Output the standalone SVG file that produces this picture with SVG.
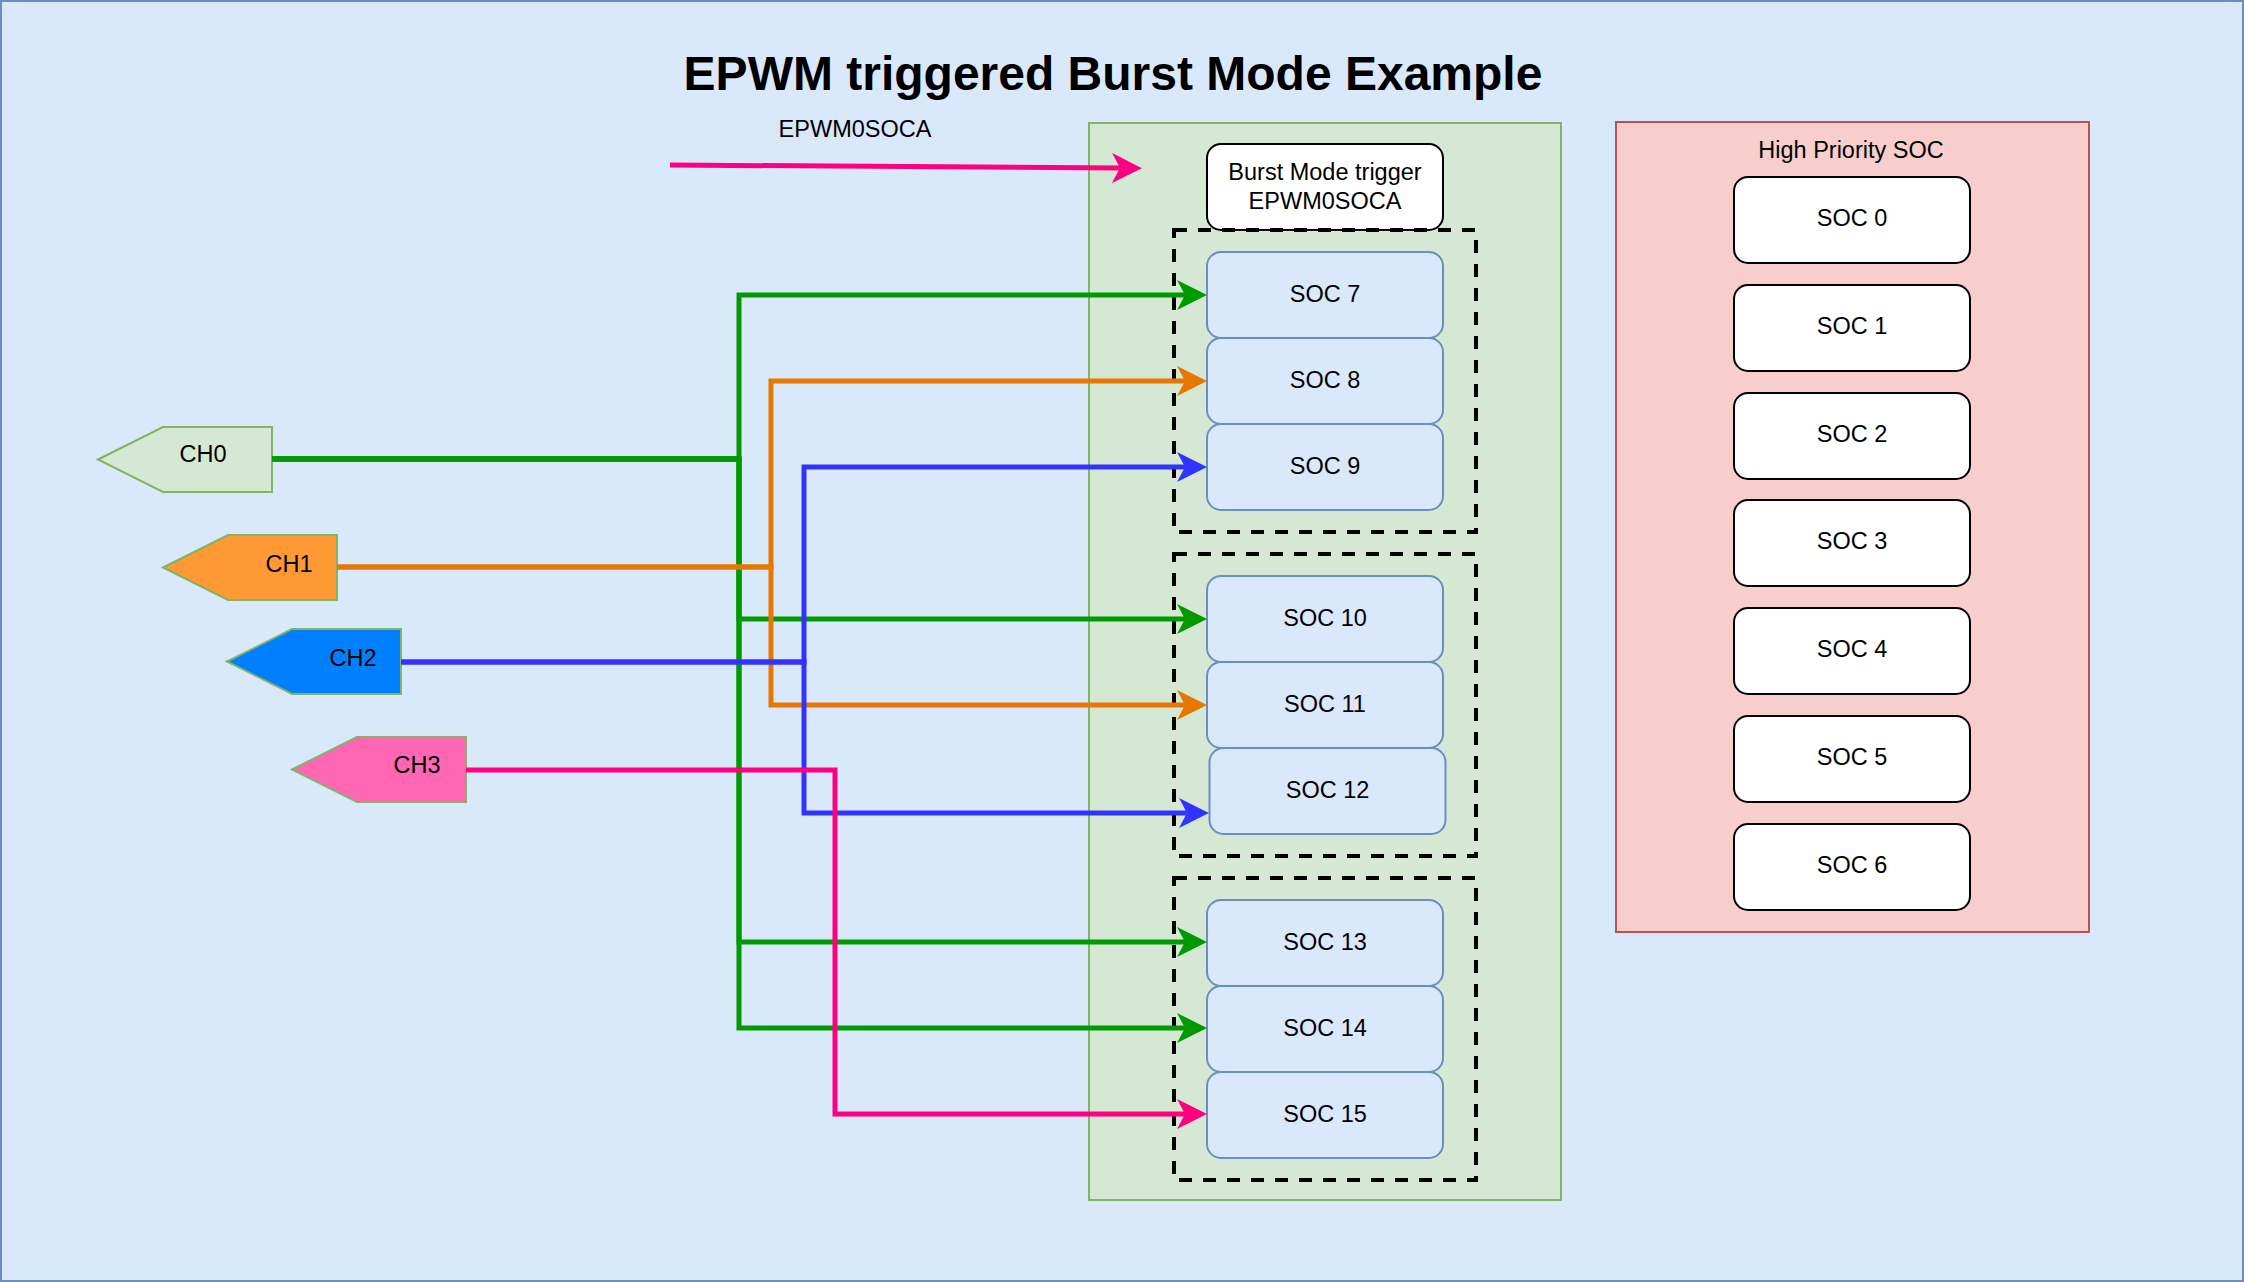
<svg xmlns="http://www.w3.org/2000/svg" width="2244" height="1282" viewBox="0 0 2244 1282">
<style>
text{font-family:"Liberation Sans",Arial,sans-serif;font-size:23.5px;fill:#000;text-anchor:middle}
.title{font-size:48px;font-weight:bold}
.soc{fill:#dae8fc;stroke:#6c8ebf;stroke-width:2}
.hp{fill:#ffffff;stroke:#000;stroke-width:2}
.dash{fill:none;stroke:#000;stroke-width:4;stroke-dasharray:13 11}
.ch{stroke:#82b366;stroke-width:2}
.c{fill:none;stroke-width:5;stroke-linejoin:miter}
.g{stroke:#009900;marker-end:url(#ag)}
.o{stroke:#e77700;marker-end:url(#ao)}
.b{stroke:#3333ff;marker-end:url(#ab)}
.p{stroke:#ff0080;marker-end:url(#ap)}
</style>
<defs>
<marker id="ag" markerUnits="userSpaceOnUse" viewBox="0 0 30 30" markerWidth="30" markerHeight="30" refX="8" refY="15" orient="auto"><path d="M0,0 L30,15 L0,30 L8,15 Z" fill="#009900"/></marker>
<marker id="ao" markerUnits="userSpaceOnUse" viewBox="0 0 30 30" markerWidth="30" markerHeight="30" refX="8" refY="15" orient="auto"><path d="M0,0 L30,15 L0,30 L8,15 Z" fill="#e77700"/></marker>
<marker id="ab" markerUnits="userSpaceOnUse" viewBox="0 0 30 30" markerWidth="30" markerHeight="30" refX="8" refY="15" orient="auto"><path d="M0,0 L30,15 L0,30 L8,15 Z" fill="#3333ff"/></marker>
<marker id="ap" markerUnits="userSpaceOnUse" viewBox="0 0 30 30" markerWidth="30" markerHeight="30" refX="8" refY="15" orient="auto"><path d="M0,0 L30,15 L0,30 L8,15 Z" fill="#ff0080"/></marker>
</defs>
<rect id="background" x="1" y="1" width="2242" height="1280" fill="#dae8fc" stroke="#6c8ebf" stroke-width="2"/>
<text class="title" x="1113" y="90">EPWM triggered Burst Mode Example</text>
<text id="epwm-label" x="855" y="137">EPWM0SOCA</text>
<g id="burst-container"><rect x="1089" y="123" width="472" height="1077" fill="#d5e8d4" stroke="#82b366" stroke-width="2"/></g>
<g id="hp-container"><rect x="1616" y="122" width="473" height="810" fill="#f8cecc" stroke="#b85450" stroke-width="2"/><text x="1851" y="158">High Priority SOC</text></g>
<g id="burst-trigger"><rect class="hp" x="1207" y="144" width="236" height="86" rx="14"/><text x="1325" y="180">Burst Mode trigger</text><text x="1325" y="209">EPWM0SOCA</text></g>
<g id="soc7"><rect class="soc" x="1207" y="252" width="236" height="86" rx="14"/><text x="1325" y="302">SOC 7</text></g>
<g id="soc8"><rect class="soc" x="1207" y="338" width="236" height="86" rx="14"/><text x="1325" y="388">SOC 8</text></g>
<g id="soc9"><rect class="soc" x="1207" y="424" width="236" height="86" rx="14"/><text x="1325" y="474">SOC 9</text></g>
<g id="soc10"><rect class="soc" x="1207" y="576" width="236" height="86" rx="14"/><text x="1325" y="626">SOC 10</text></g>
<g id="soc11"><rect class="soc" x="1207" y="662" width="236" height="86" rx="14"/><text x="1325" y="712">SOC 11</text></g>
<g id="soc12"><rect class="soc" x="1209.5" y="748" width="236" height="86" rx="14"/><text x="1327.5" y="798">SOC 12</text></g>
<g id="soc13"><rect class="soc" x="1207" y="900" width="236" height="86" rx="14"/><text x="1325" y="950">SOC 13</text></g>
<g id="soc14"><rect class="soc" x="1207" y="986" width="236" height="86" rx="14"/><text x="1325" y="1036">SOC 14</text></g>
<g id="soc15"><rect class="soc" x="1207" y="1072" width="236" height="86" rx="14"/><text x="1325" y="1122">SOC 15</text></g>
<g id="group1"><rect class="dash" x="1174" y="230" width="302" height="302"/></g>
<g id="group2"><rect class="dash" x="1174" y="554" width="302" height="302"/></g>
<g id="group3"><rect class="dash" x="1174" y="878" width="302" height="302"/></g>
<g id="soc0"><rect class="hp" x="1734" y="177" width="236" height="86" rx="14"/><text x="1852" y="226">SOC 0</text></g>
<g id="soc1"><rect class="hp" x="1734" y="285" width="236" height="86" rx="14"/><text x="1852" y="334">SOC 1</text></g>
<g id="soc2"><rect class="hp" x="1734" y="393" width="236" height="86" rx="14"/><text x="1852" y="442">SOC 2</text></g>
<g id="soc3"><rect class="hp" x="1734" y="500" width="236" height="86" rx="14"/><text x="1852" y="549">SOC 3</text></g>
<g id="soc4"><rect class="hp" x="1734" y="608" width="236" height="86" rx="14"/><text x="1852" y="657">SOC 4</text></g>
<g id="soc5"><rect class="hp" x="1734" y="716" width="236" height="86" rx="14"/><text x="1852" y="765">SOC 5</text></g>
<g id="soc6"><rect class="hp" x="1734" y="824" width="236" height="86" rx="14"/><text x="1852" y="873">SOC 6</text></g>
<g id="ch0"><polygon class="ch" fill="#d5e8d4" points="98,459.5 163,427 272,427 272,492 163,492"/><text x="203" y="462">CH0</text></g>
<g id="ch1"><polygon class="ch" fill="#ff9933" points="163,567.5 228,535 337,535 337,600 228,600"/><text x="289" y="572">CH1</text></g>
<g id="ch2"><polygon class="ch" fill="#007fff" points="227,661.5 292,629 401,629 401,694 292,694"/><text x="353" y="666">CH2</text></g>
<g id="ch3"><polygon class="ch" fill="#ff66b3" points="292,769.5 357,737 466,737 466,802 357,802"/><text x="417" y="773">CH3</text></g>
<g id="connectors">
<path class="c p" d="M670,165 L1120,168"/>
<path class="c g" d="M272,459 H739 V295 H1185"/>
<path class="c g" d="M272,459 H739 V619 H1185"/>
<path class="c g" d="M272,459 H739 V942 H1185"/>
<path class="c g" d="M272,459 H739 V1028 H1185"/>
<path class="c o" d="M337,567 H771 V381 H1185"/>
<path class="c o" d="M337,567 H771 V705 H1185"/>
<path class="c b" d="M401,662 H804 V467 H1185"/>
<path class="c b" d="M401,662 H804 V813 H1187"/>
<path class="c p" d="M466,770 H835 V1114 H1185"/>
</g>
</svg>
